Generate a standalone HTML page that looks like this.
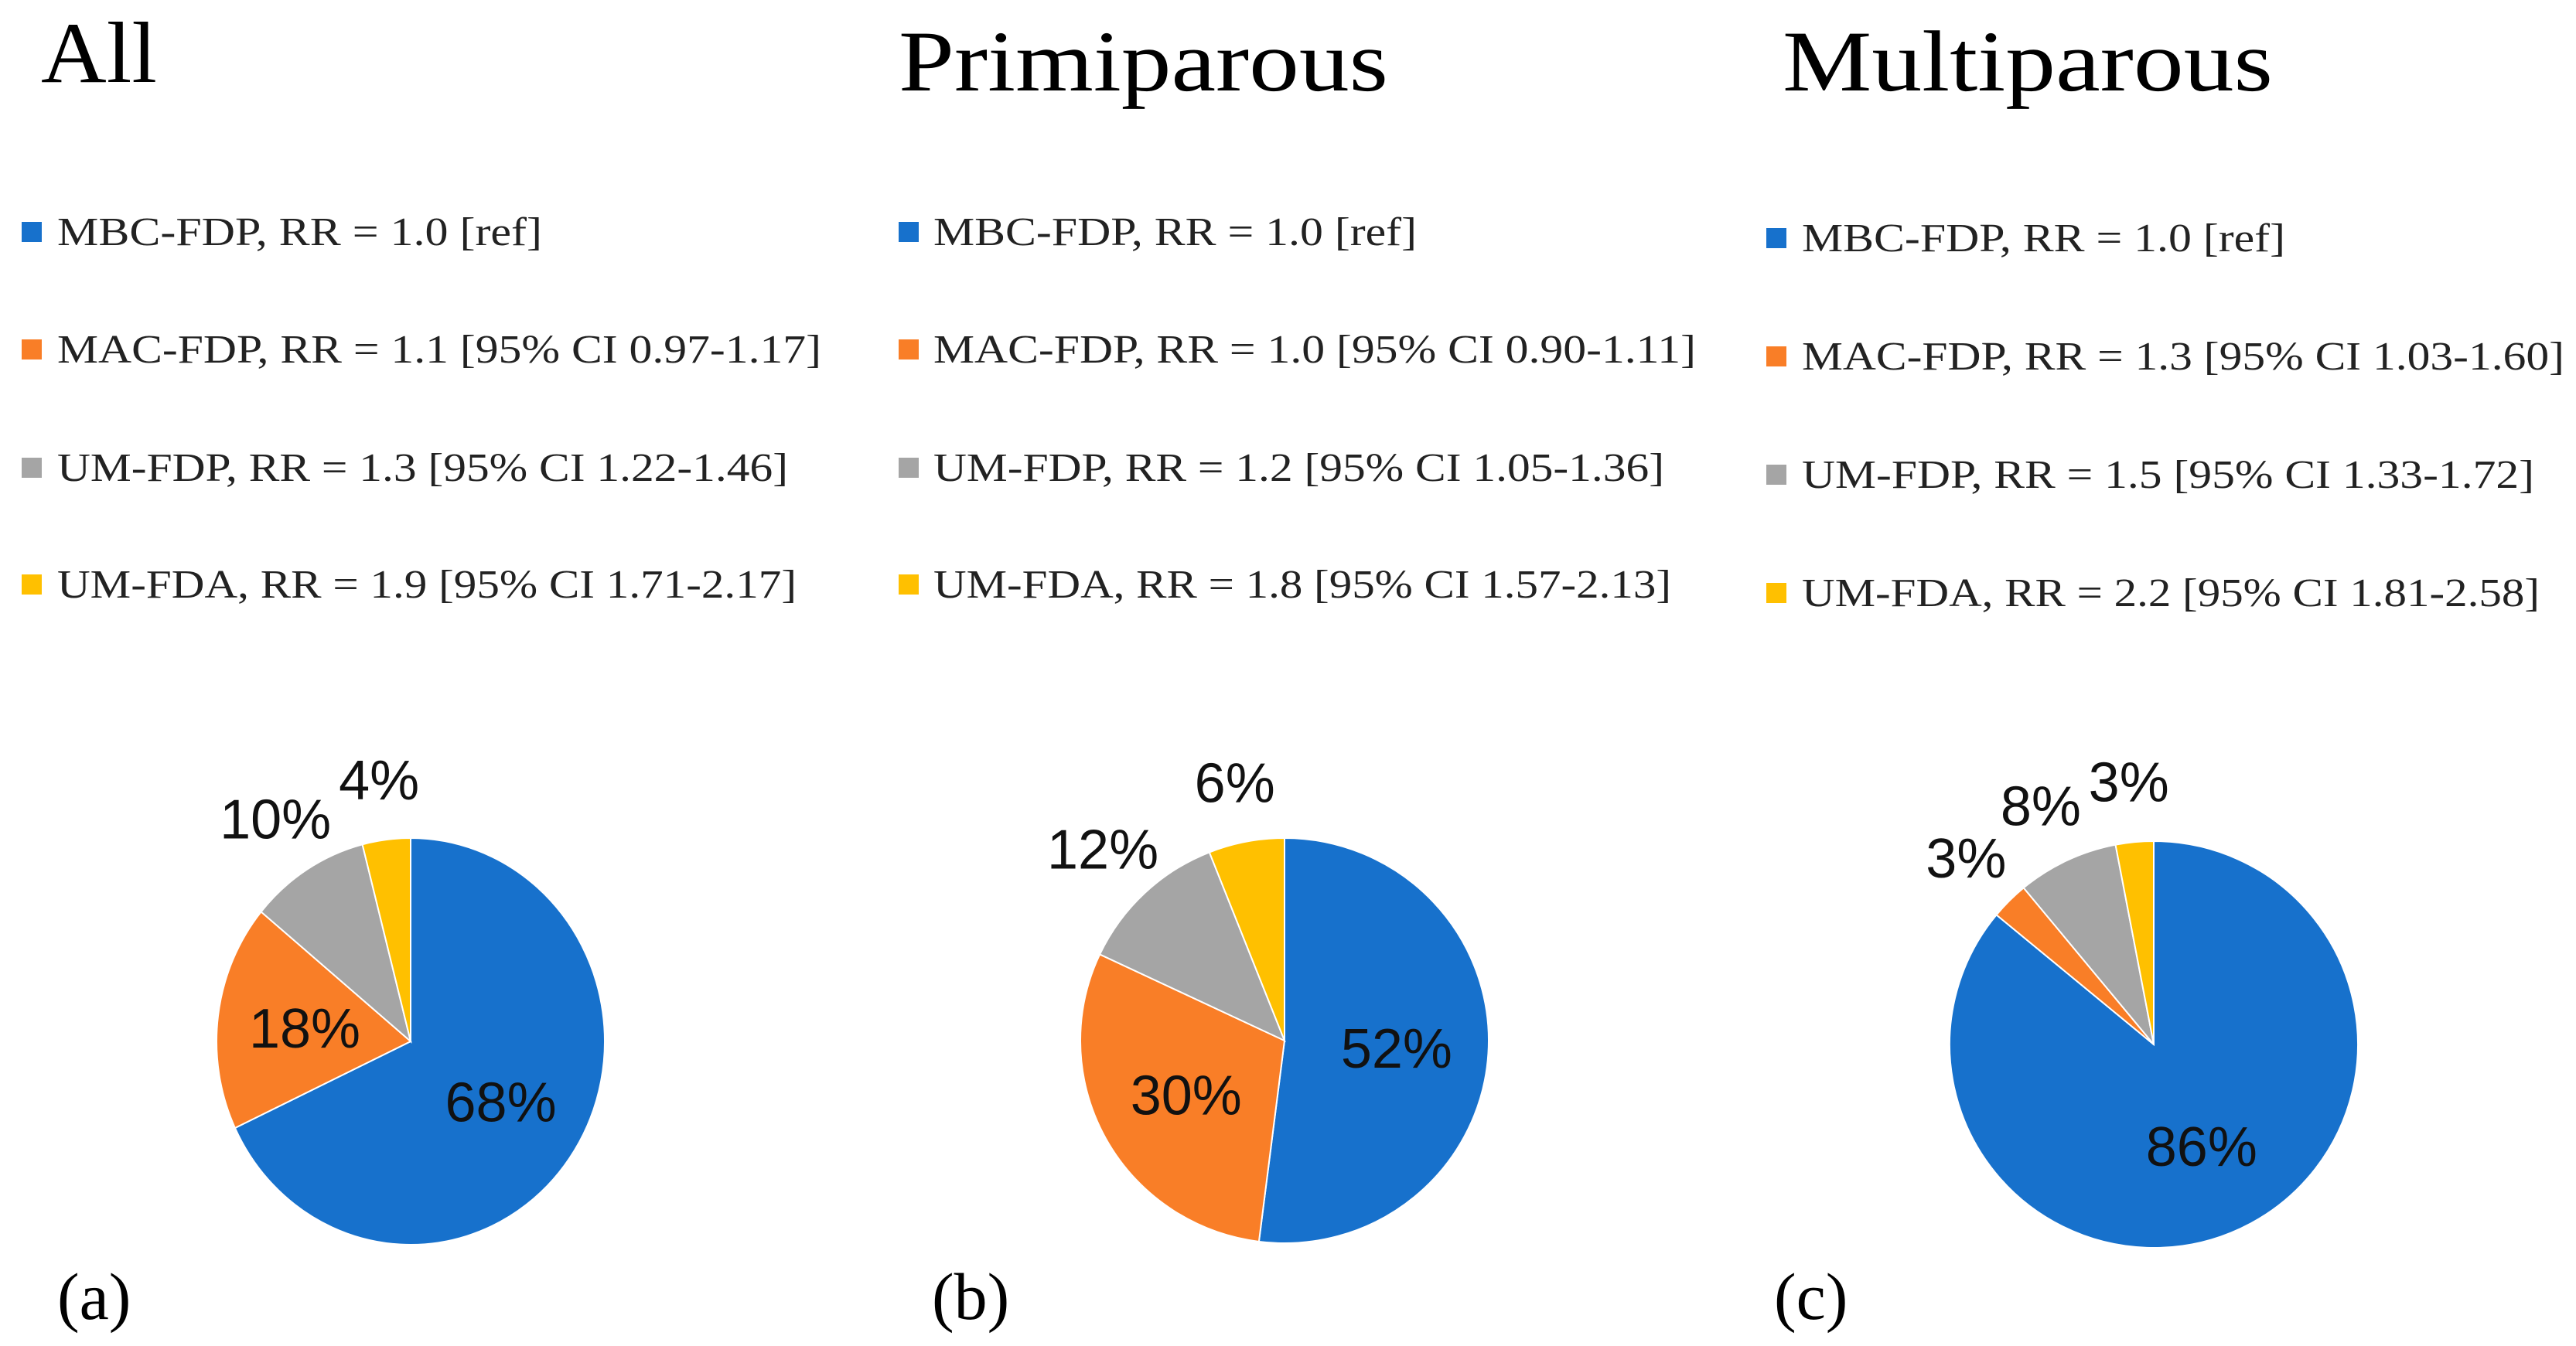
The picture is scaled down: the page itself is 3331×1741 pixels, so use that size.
<!DOCTYPE html>
<html><head><meta charset="utf-8"><style>html,body{margin:0;padding:0;background:#fff}svg{display:block}</style></head>
<body>
<svg id="chart" width="3331" height="1741" viewBox="0 0 3331 1741" xmlns="http://www.w3.org/2000/svg">
<rect width="3331" height="1741" fill="#fff"/>
<g id="root"></g>
</svg>
<script>
const categories = ["MBC-FDP", "MAC-FDP", "UM-FDP", "UM-FDA"];
const colors = ["#1771CC", "#F97E27", "#A5A5A5", "#FFC000"];
const panelTitles = ["All", "Primiparous", "Multiparous"];
const panelLetters = ["(a)", "(b)", "(c)"];
const valuesAll = [68, 18, 10, 4];
const valuesPrimi = [52, 30, 12, 6];
const valuesMulti = [86, 3, 8, 3];
const legendAll = ["MBC-FDP, RR = 1.0 [ref]", "MAC-FDP, RR = 1.1 [95% CI 0.97-1.17]", "UM-FDP, RR = 1.3 [95% CI 1.22-1.46]", "UM-FDA, RR = 1.9 [95% CI 1.71-2.17]"];
const legendPrimi = ["MBC-FDP, RR = 1.0 [ref]", "MAC-FDP, RR = 1.0 [95% CI 0.90-1.11]", "UM-FDP, RR = 1.2 [95% CI 1.05-1.36]", "UM-FDA, RR = 1.8 [95% CI 1.57-2.13]"];
const legendMulti = ["MBC-FDP, RR = 1.0 [ref]", "MAC-FDP, RR = 1.3 [95% CI 1.03-1.60]", "UM-FDP, RR = 1.5 [95% CI 1.33-1.72]", "UM-FDA, RR = 2.2 [95% CI 1.81-2.58]"];

const NS = "http://www.w3.org/2000/svg";
const root = document.getElementById("root");
function mk(tag, attrs, parent) {
  const e = document.createElementNS(NS, tag);
  for (const k in attrs) e.setAttribute(k, attrs[k]);
  (parent || root).appendChild(e);
  return e;
}
const layouts = [
  {title:[53,106,150], sqx:28, tx:74, rows:[300,452,605,756], tw:[627,988,945,956], cx:531, cy:1347, rx:251, ry:263, letter:[74,1706]},
  {title:[1162,117,633], sqx:1162, tx:1207, rows:[300,452,605,756], tw:[625,986,945,954], cx:1661, cy:1346, rx:264, ry:262, letter:[1205,1706]},
  {title:[2305,117,634], sqx:2284, tx:2330, rows:[308,461,614,767], tw:[625,986,947,954], cx:2785, cy:1351, rx:264, ry:263, letter:[2294,1706]}
];
const allValues = [valuesAll, valuesPrimi, valuesMulti];
const allLegends = [legendAll, legendPrimi, legendMulti];
const serif = '"Liberation Serif", serif';
const sans = '"Liberation Sans", sans-serif';

layouts.forEach((L, p) => {
  const g = mk("g", {});
  
  
  const t = mk("text", {x:L.title[0], y:L.title[1], "font-family":serif, "font-size":112, fill:"#000", textLength:L.title[2], lengthAdjust:"spacingAndGlyphs"}, g);
  t.textContent = panelTitles[p];
  
  
  allLegends[p].forEach((txt, i) => {
    const lg = mk("g", {}, g);
    
    
    const sq = mk("rect", {x:L.sqx, y:L.rows[i]-13, width:26, height:26, fill:colors[i]}, lg);
    
    
    const tx = mk("text", {x:L.tx, y:L.rows[i]+17, "font-family":serif, "font-size":52, fill:"#222", textLength:L.tw[i], lengthAdjust:"spacingAndGlyphs"}, lg);
    tx.textContent = txt;
    
    
  });
  const vals = allValues[p];
  const total = vals.reduce((a, b) => a + b, 0);
  let cum = 0;
  vals.forEach((v, i) => {
    const a0 = cum / total * 2 * Math.PI;
    cum += v;
    const a1 = cum / total * 2 * Math.PI;
    const x0 = L.cx + L.rx * Math.sin(a0), y0 = L.cy - L.ry * Math.cos(a0);
    const x1 = L.cx + L.rx * Math.sin(a1), y1 = L.cy - L.ry * Math.cos(a1);
    const large = (a1 - a0) > Math.PI ? 1 : 0;
    const path = mk("path", {d:`M${L.cx},${L.cy} L${x0},${y0} A${L.rx},${L.ry} 0 ${large} 1 ${x1},${y1} Z`, fill:colors[i], stroke:"#fff", "stroke-width":2}, g);
    
    
    const am = (a0 + a1) / 2;
    const f = v >= 15 ? 0.55 : 1.3;
    const lx = L.cx + f * L.rx * Math.sin(am), ly = L.cy - f * L.ry * Math.cos(am);
    const lab = mk("text", {x:lx, y:ly + 26, "text-anchor":"middle", "font-family":sans, "font-size":72, fill:"#111"}, g);
    lab.textContent = v + "%";
    
    
  });
  const le = mk("text", {x:L.letter[0], y:L.letter[1], "font-family":serif, "font-size":86, fill:"#000"}, g);
  le.textContent = panelLetters[p];
  
  
});
</script>
</body></html>
